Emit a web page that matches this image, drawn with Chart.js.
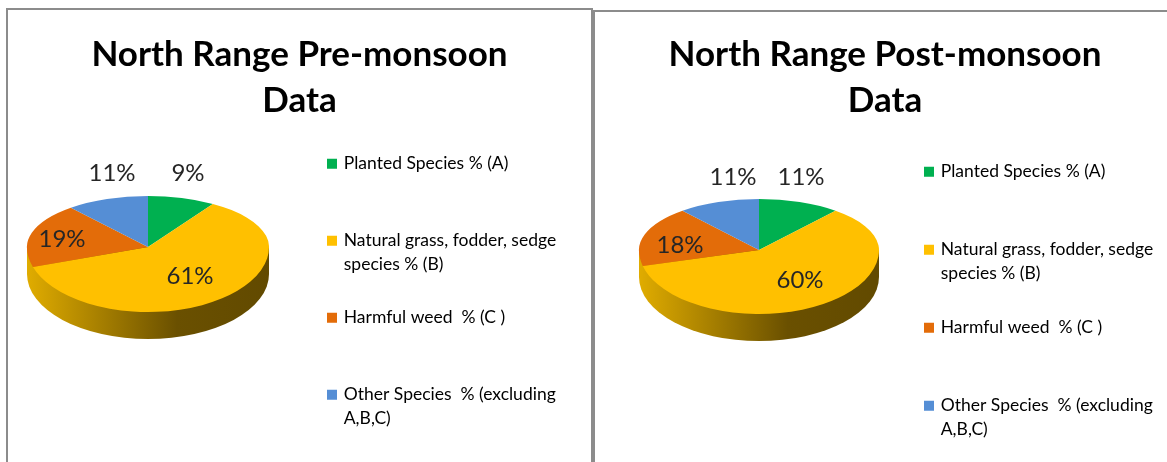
<!DOCTYPE html>
<html>
<head>
<meta charset="utf-8">
<title>North Range monsoon data</title>
<script src="https://cdn.jsdelivr.net/npm/chart.js@4"></script>
<style>
  html, body { margin: 0; padding: 0; background: #fff; overflow: hidden; width: 1167px; height: 462px; }
  .panel { position: absolute; box-sizing: content-box; border: 2px solid #8c8c8c; border-bottom: none; }
  #panel1 { left: 6px; top: 8px; width: 583px; height: 452px; }
  #panel2 { left: 593px; top: 10px; width: 580px; height: 450px; }
  canvas { display: block; }
</style>
</head>
<body>
<div class="panel" id="panel1"><canvas id="pre" width="583" height="452"></canvas></div>
<div class="panel" id="panel2"><canvas id="post" width="580" height="450"></canvas></div>
<script>
const categories = [
  ['Planted Species % (A)', ''],
  ['Natural grass, fodder, sedge', 'species % (B)'],
  ['Harmful weed  % (C )', ''],
  ['Other Species  % (excluding', 'A,B,C)']
];
const preValues = [9, 61, 19, 11];
const postValues = [11, 60, 18, 11];
const colors = ['#00b050', '#ffc000', '#e36c09', '#558ed5'];

const preTitle = ['North Range Pre-monsoon', 'Data'];
const postTitle = ['North Range Post-monsoon', 'Data'];

// the pie top is drawn in two halves so the centre sits above the middle, like the tilted original
const preShape = { x: 140, y: 237, rx: 121, ryUp: 51, ryDown: 65, depth: 27,
  labels: [[40, -74], [42, 29], [-86, -8], [-36, -74]] };
const postShape = { x: 164, y: 238, rx: 120, ryUp: 51, ryDown: 64, depth: 27,
  labels: [[42, -73], [41, 30], [-79, -5], [-26, -73]] };

const tiltedPie = {
  id: 'tiltedPie',
  beforeDatasetsDraw(chart, args, s) {
    const ctx = chart.ctx;
    const meta = chart.getDatasetMeta(0);
    const arc = meta.data[0];

    // side wall
    const grad = ctx.createLinearGradient(s.x - s.rx, 0, s.x + s.rx, 0);
    grad.addColorStop(0, '#e0ac00');
    grad.addColorStop(0.62, '#6a5000');
    grad.addColorStop(1, '#624a00');
    ctx.save();
    ctx.beginPath();
    ctx.ellipse(s.x, s.y + s.depth, s.rx, s.ryDown, 0, 0, Math.PI);
    ctx.lineTo(s.x - s.rx, s.y);
    ctx.lineTo(s.x + s.rx, s.y);
    ctx.closePath();
    ctx.fillStyle = grad;
    ctx.fill();
    ctx.restore();

    // top face, the arcs are the library's own, only squashed
    [[0, s.y, s.ryUp], [s.y, chart.height, s.ryDown]].forEach(([y0, y1, ry]) => {
      ctx.save();
      ctx.beginPath();
      ctx.rect(0, y0, chart.width, y1 - y0);
      ctx.clip();
      ctx.translate(s.x, s.y);
      ctx.scale(s.rx / arc.outerRadius, ry / arc.outerRadius);
      ctx.translate(-arc.x, -arc.y);
      meta.controller.draw();
      ctx.restore();
    });

    // value labels
    ctx.save();
    ctx.font = '24px Lato';
    ctx.fillStyle = '#262626';
    ctx.textAlign = 'center';
    ctx.textBaseline = 'middle';
    chart.data.datasets[0].data.forEach((v, i) => {
      ctx.fillText(v + '%', s.x + s.labels[i][0], s.y + s.labels[i][1]);
    });
    ctx.restore();
    return false;
  }
};

function makeChart(id, title, values, shape, opts) {
  return new Chart(document.getElementById(id), {
    type: 'pie',
    data: {
      labels: categories,
      datasets: [{ data: values, backgroundColor: colors, borderWidth: 0 }]
    },
    plugins: [tiltedPie],
    options: {
      responsive: false,
      animation: false,
      events: [],
      layout: { padding: { left: opts.side, right: opts.side } },
      plugins: {
        tiltedPie: shape,
        tooltip: { enabled: false },
        title: {
          display: true,
          text: title,
          color: '#000',
          font: { family: 'Lato', size: 35, weight: 'bold', lineHeight: 46 / 35 },
          padding: { top: opts.titleTop, bottom: opts.titleBottom }
        },
        legend: {
          position: 'right',
          align: 'start',
          fullSize: false,
          maxWidth: opts.legendWidth,
          labels: {
            color: '#404040',
            font: { family: 'Lato', size: 17.5, lineHeight: 24 / 17.5 },
            padding: opts.gap,
            generateLabels(chart) {
              return chart.data.labels.map((text, i) => ({
                text: text,
                fillStyle: colors[i],
                strokeStyle: colors[i],
                lineWidth: 4,
                hidden: false,
                index: i
              }));
            },
            boxWidth: 6,
            boxHeight: 6
          }
        }
      }
    }
  });
}

makeChart('pre', preTitle, preValues, preShape, { side: 26, titleTop: 22, titleBottom: 2, gap: 29, legendWidth: 265 });
makeChart('post', postTitle, postValues, postShape, { side: 0, titleTop: 20, titleBottom: 9, gap: 30, legendWidth: 279 });
</script>
</body>
</html>
